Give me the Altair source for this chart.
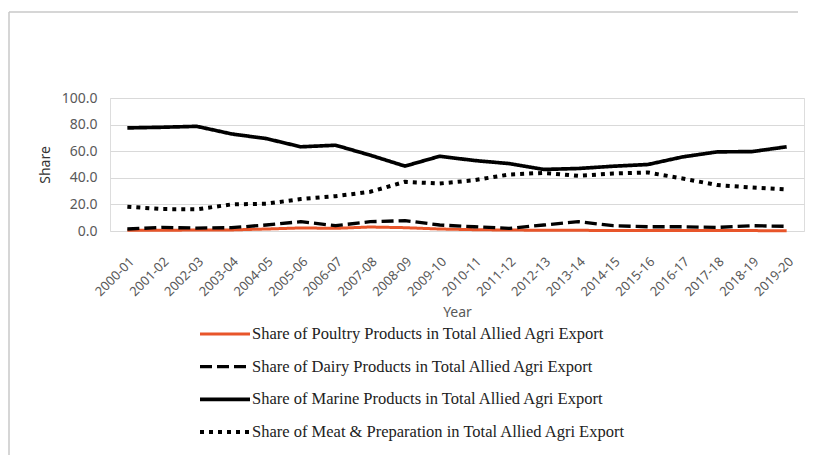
import altair as alt
import pandas as pd

years = ["2000-01", "2001-02", "2002-03", "2003-04", "2004-05", "2005-06", "2006-07",
         "2007-08", "2008-09", "2009-10", "2010-11", "2011-12", "2012-13", "2013-14",
         "2014-15", "2015-16", "2016-17", "2017-18", "2018-19", "2019-20"]

poultry = [0.5, 0.6, 0.7, 0.8, 1.5, 2.3, 2.0, 3.0, 2.5, 1.5, 1.0, 0.7, 0.6, 0.5, 0.4, 0.4, 0.3, 0.3, 0.3, 0.2]
dairy = [1.5, 2.7, 2.2, 2.5, 4.5, 7.0, 4.0, 7.0, 7.8, 4.5, 3.2, 2.0, 4.5, 7.0, 4.0, 3.2, 3.2, 2.7, 4.0, 3.5]
marine = [77.5, 78.0, 78.7, 73.0, 69.5, 63.3, 64.5, 57.0, 48.8, 56.2, 53.0, 50.7, 46.3, 47.0, 48.7, 50.0, 55.7, 59.5, 59.7, 63.3]
meat = [18.3, 16.5, 16.3, 20.0, 20.5, 24.0, 26.2, 29.5, 37.0, 35.7, 38.2, 42.5, 43.7, 41.5, 43.2, 44.0, 39.5, 34.5, 32.7, 31.2]

series_names = [
    "Share of Poultry Products in Total Allied Agri Export",
    "Share of Dairy Products in Total Allied Agri Export",
    "Share of Marine Products in Total Allied Agri Export",
    "Share of Meat & Preparation  in Total Allied Agri Export",
]
series_values = [poultry, dairy, marine, meat]
series_colors = ["#E8552A", "#000000", "#000000", "#000000"]
series_dashes = [[1, 0], [12, 5], [1, 0], [4, 5]]
series_widths = [3, 4, 3.5, 4]

rows = []
for name, vals in zip(series_names, series_values):
    for y, v in zip(years, vals):
        rows.append({"Year": y, "Share": v, "series": name})
df = pd.DataFrame(rows)

legend_df = pd.DataFrame({"series": series_names, "row": list(range(len(series_names)))})
frame_df = pd.DataFrame({"k": [0]})

color_scale = alt.Scale(domain=series_names, range=series_colors)
dash_scale = alt.Scale(domain=series_names, range=series_dashes)
width_scale = alt.Scale(domain=series_names, range=series_widths)

FONT = "Noto Sans"
GREY = "#595959"

x_enc = alt.X("Year:O", sort=years, title="Year",
              scale=alt.Scale(type="point", padding=0.5),
              axis=alt.Axis(labelAngle=-45, labelFont=FONT, labelFontSize=13, labelColor=GREY,
                            labelPadding=24, ticks=False, domain=False, grid=False,
                            titleFont=FONT, titleFontSize=14, titleColor=GREY,
                            titleFontWeight="normal", titlePadding=7))
y_enc = alt.Y("Share:Q", title="Share",
              scale=alt.Scale(domain=[0, 100]),
              axis=alt.Axis(values=[0, 20, 40, 60, 80, 100], format=".1f",
                            labelFont=FONT, labelFontSize=14, labelColor=GREY,
                            labelPadding=13, ticks=False, domain=False,
                            grid=True, gridColor="#d9d9d9", gridWidth=1.2,
                            titleFont=FONT, titleFontSize=14, titleColor="#333333",
                            titleFontWeight="normal", titlePadding=9))

line_layers = []
for name in series_names:
    line_layers.append(
        alt.Chart(df).transform_filter(alt.datum.series == name).mark_line(
            strokeCap="butt", strokeJoin="round"
        ).encode(
            x=x_enc,
            y=y_enc,
            color=alt.Color("series:N", scale=color_scale, legend=None),
            strokeDash=alt.StrokeDash("series:N", scale=dash_scale, legend=None),
            strokeWidth=alt.StrokeWidth("series:N", scale=width_scale, legend=None),
        )
    )
lines = alt.layer(*line_layers)

leg_y = alt.Y("row:Q", scale=alt.Scale(domain=[0, 3], range=[236, 334]), axis=None)

legend_rules = alt.Chart(legend_df).mark_rule(strokeCap="butt").encode(
    x=alt.value(90), x2=alt.value(140),
    y=leg_y,
    color=alt.Color("series:N", scale=color_scale, legend=None),
    strokeDash=alt.StrokeDash("series:N", scale=dash_scale, legend=None),
    strokeWidth=alt.StrokeWidth("series:N", scale=width_scale, legend=None),
)
legend_text = alt.Chart(legend_df).mark_text(
    align="left", baseline="middle", font="Liberation Serif", fontSize=16.5, color="#222222"
).encode(
    x=alt.value(142),
    y=leg_y,
    text="series:N",
)
legend = alt.layer(legend_rules, legend_text)

frame_top = alt.Chart(frame_df).mark_rule(stroke="#c8c8c8", strokeWidth=1.5).encode(
    x=alt.value(-101), x2=alt.value(688), y=alt.value(-86)
)
frame_left = alt.Chart(frame_df).mark_rule(stroke="#c8c8c8", strokeWidth=1.5).encode(
    x=alt.value(-101), y=alt.value(-86), y2=alt.value(500)
)

chart = alt.layer(frame_top, frame_left, lines, legend).resolve_scale(y="independent").properties(
    width=694, height=133,
    autosize=alt.AutoSizeParams(type="none"),
    padding={"left": 102, "top": 90, "right": 1, "bottom": 224},
).configure_view(stroke=None).configure(background="#ffffff")

chart.save("out.html", embed_options={"renderer": "svg", "actions": False})
